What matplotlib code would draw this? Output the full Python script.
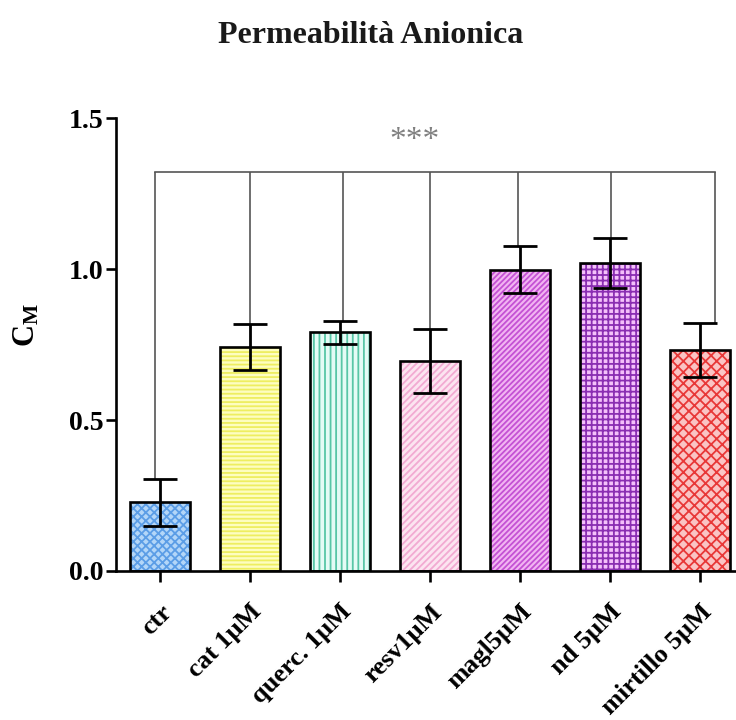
import matplotlib
matplotlib.use("Agg")
import matplotlib.pyplot as plt
import numpy as np

plt.rcParams['font.family'] = ['Liberation Serif', 'DejaVu Serif']
plt.rcParams['font.weight'] = 'bold'
plt.rcParams['mathtext.fontset'] = 'custom'
plt.rcParams['mathtext.rm'] = 'Liberation Serif:bold'
plt.rcParams['mathtext.bf'] = 'Liberation Serif:bold'
plt.rcParams['mathtext.it'] = 'Liberation Serif:bold'
plt.rcParams['hatch.linewidth'] = 1.3

# Data
categories = ['ctr', 'cat 1μM', 'querc. 1μM', 'resv1μM', 'magl5μM', 'nd 5μM', 'mirtillo 5μM']
means = [0.227, 0.742, 0.790, 0.695, 0.997, 1.020, 0.732]
sems = [0.078, 0.076, 0.037, 0.105, 0.078, 0.083, 0.090]

face_colors = ['#b3d6f8', '#fdfdc0', '#e4fbf5', '#fce4f0', '#f2b4f2', '#f4c0fa', '#fac4c4']
hatch_colors = ['#5b9de6', '#eeee60', '#58c6a6', '#f2aad2', '#c451d4', '#8a2eb2', '#e83838']
hatches = ['xxxx', '----', '|||', '/////', '//////', '+++', 'xxx']

bracket_y = 1.321
bracket_dx = [-0.055, 0.0, 0.03, 0.0, -0.02, 0.01, 0.165]
stars = '***'

fig = plt.figure(figsize=(7.36, 7.2), dpi=100)
ax = fig.add_axes([0.1576, 0.207, 0.8424, 0.629])

x = np.arange(len(categories))
w = 0.66

# hatched fills, then black outlines on top
ax.bar(x, means, width=w, color=face_colors, edgecolor=hatch_colors,
       hatch=hatches, linewidth=0, zorder=2)
ax.bar(x, means, width=w, fill=False, edgecolor='black', linewidth=1.9, zorder=3)

ax.errorbar(x, means, yerr=sems, fmt='none', ecolor='black', elinewidth=2.0,
            capsize=12, capthick=2.0, zorder=4)

# significance bracket
tops = np.array(means) + np.array(sems)
bx = x + np.array(bracket_dx)
for xi, t in zip(bx, tops):
    ax.plot([xi, xi], [t, bracket_y], color='#555555', lw=1.2, zorder=1,
            solid_capstyle='butt')
ax.plot([bx[0], bx[-1]], [bracket_y, bracket_y], color='#555555', lw=1.2, zorder=1)
ax.text(2.83, 1.425, stars, ha='center', va='center', fontsize=24,
        color='#808080', fontweight='normal')

ax.set_xlim(-0.49, 6.4)
ax.set_ylim(0, 1.5)
ax.set_yticks([0.0, 0.5, 1.0, 1.5])
ax.set_yticklabels(['0.0', '0.5', '1.0', '1.5'])
ax.set_xticks(x)
ax.set_xticklabels(categories, rotation=45, ha='right', rotation_mode='anchor')

for s in ['top', 'right']:
    ax.spines[s].set_visible(False)
for s in ['left', 'bottom']:
    ax.spines[s].set_linewidth(1.9)

ax.tick_params(axis='y', direction='out', length=7, width=1.9, labelsize=20, pad=2)
ax.tick_params(axis='x', direction='out', length=8, width=1.9, labelsize=19, pad=13)

ax.set_ylabel(r'$\mathbf{C_M}$', fontsize=22)
ax.yaxis.set_label_coords(-0.12, 0.543)
fig.text(0.503, 0.951, 'Permeabilità Anionica', ha='center', va='center',
         fontsize=23, fontweight='bold', color='#1a1a1a')

fig.savefig('out.png', dpi=100)
